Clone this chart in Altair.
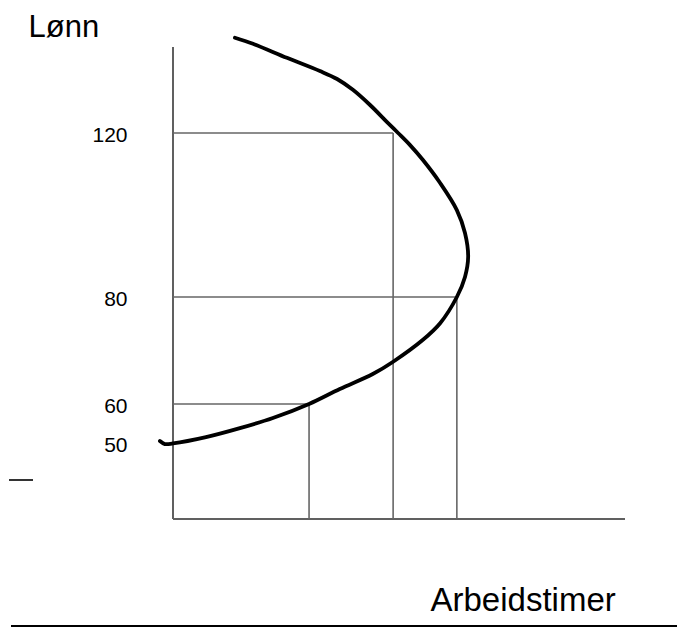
import altair as alt
import pandas as pd

# Backward-bending labour supply curve (schematic)
curve_x = [-2.9, -1.8, 0.0, 7.3, 14.8, 22.1, 30.1, 36.9, 44.2, 48.7, 55.3, 59.1,
           62.8, 64.6, 65.3, 64.6, 62.8, 59.1, 55.3, 52.4, 49.8, 47.3, 43.6, 39.8,
           36.3, 32.5, 25.2, 17.7, 13.7]
curve_y = [50.5, 49.3, 49.7, 51.5, 53.8, 56.4, 60.0, 62.8, 65.6, 67.9, 72.0, 75.1,
           80.0, 84.9, 89.8, 95.6, 101.2, 107.8, 113.4, 117.1, 120.0, 122.8, 127.0,
           130.8, 133.5, 135.5, 138.8, 142.3, 143.8]

# Wage levels and corresponding hours
wage_levels = [60, 120, 80]
hours_levels = [30.1, 48.7, 62.8]
tick_labels = [50, 60, 80, 120]

x_max = 100
y_top = 141.5

df_curve = pd.DataFrame({"x": curve_x, "y": curve_y, "i": range(len(curve_x))})
df_h = pd.DataFrame({"x": [0] * 3, "x2": hours_levels, "y": wage_levels})
df_v = pd.DataFrame({"x": hours_levels, "y": [0] * 3, "y2": wage_levels})
df_axes = pd.DataFrame({"x": [0, 0], "x2": [0, x_max], "y": [0, 0], "y2": [y_top, 0]})

FONT = "Liberation Sans"
xscale = alt.Scale(domain=[0, x_max], zero=False, nice=False)
yscale = alt.Scale(domain=[0, 50, 60, 80, 120, 144],
                   range=[482, 406, 367, 260, 96, 0], zero=False, nice=False)

yaxis = alt.Axis(values=tick_labels, domain=False, ticks=False, tickSize=0, grid=False,
                 labelPadding=46, labelFontSize=21, labelFont=FONT, labelColor="#000",
                 labelOffset=2,
                 title="Lønn", titleAngle=0, titleAlign="left", titleBaseline="alphabetic",
                 titleX=-145, titleY=-1, titleFontSize=31, titleFontWeight="normal",
                 titleFont=FONT, titleColor="#000")
xaxis = alt.Axis(labels=False, domain=False, ticks=False, grid=False,
                 title="Arbeidstimer", titleAlign="left", titleBaseline="alphabetic",
                 titleX=257, titleY=91, titleFontSize=33, titleFontWeight="normal",
                 titleFont=FONT, titleColor="#000")

X = alt.X("x:Q", scale=xscale, axis=xaxis)
Y = alt.Y("y:Q", scale=yscale, axis=yaxis)

axes = alt.Chart(df_axes).mark_rule(color="#606060", strokeWidth=2).encode(
    x=X, x2="x2:Q", y=Y, y2="y2:Q")
hlines = alt.Chart(df_h).mark_rule(color="#666666", strokeWidth=1.6).encode(
    x=X, x2="x2:Q", y=Y)
vlines = alt.Chart(df_v).mark_rule(color="#666666", strokeWidth=1.6).encode(
    x=X, y=Y, y2="y2:Q")
curve = alt.Chart(df_curve).mark_line(color="black", strokeWidth=3.8,
                                      interpolate="catmull-rom", strokeCap="round").encode(
    x=X, y=Y, order="i:Q")

# decorative page elements
dash = alt.Chart(pd.DataFrame({"k": [0]})).mark_rule(color="#333", strokeWidth=2).encode(
    x=alt.value(-164), x2=alt.value(-140), y=alt.value(443))
bottom = alt.Chart(pd.DataFrame({"k": [0]})).mark_rule(color="black", strokeWidth=2).encode(
    x=alt.value(-162), x2=alt.value(520), y=alt.value(589))

chart = alt.layer(axes, hlines, vlines, curve, dash, bottom).properties(
    width=452, height=482,
    autosize=alt.AutoSizeParams(type="none"),
    padding={"left": 165, "top": 29, "right": 52, "bottom": 109},
).configure_view(stroke=None)

chart.save("out.html", embed_options={"renderer": "svg", "actions": False})
